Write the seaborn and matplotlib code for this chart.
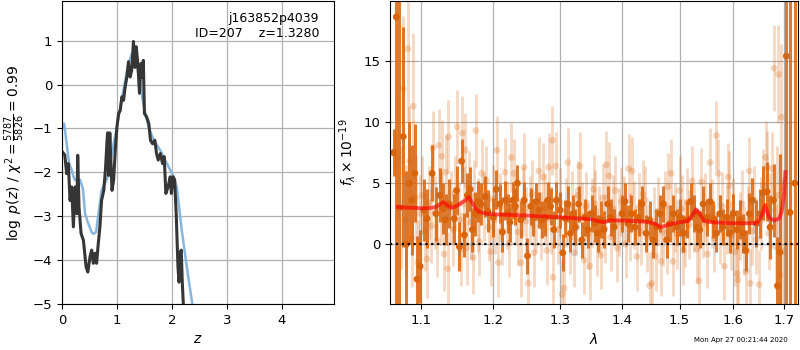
import numpy as np
import pandas as pd
import matplotlib
matplotlib.use("Agg")
import matplotlib.pyplot as plt
import matplotlib.ticker as mticker
import seaborn as sns

# ---- p(z) panel ----
z_pz = [0.01, 0.05, 0.085, 0.115, 0.146, 0.176, 0.207, 0.24, 0.27, 0.286, 0.31, 0.347,
        0.39, 0.438, 0.47, 0.51, 0.54, 0.57, 0.60, 0.63, 0.66, 0.69, 0.72, 0.76, 0.79,
        0.82, 0.83, 0.85, 0.87, 0.91, 0.94, 0.97, 1.0, 1.03, 1.06, 1.09, 1.12, 1.15,
        1.18, 1.21, 1.24, 1.27, 1.30, 1.33, 1.35, 1.38, 1.41, 1.44, 1.46, 1.48, 1.50,
        1.54, 1.58, 1.61, 1.65, 1.69, 1.72, 1.75, 1.79, 1.83, 1.86, 1.89, 1.93, 1.97,
        1.99, 2.02, 2.05, 2.08, 2.11, 2.13, 2.15, 2.17, 2.19, 2.21, 2.25]
logp = [-1.54, -1.6, -2.03, -1.8, -2.64, -2.33, -3.24, -2.33, -2.94, -1.61, -2.79, -3.39,
        -3.55, -4.15, -4.27, -3.92, -3.77, -4.07, -3.84, -4.07, -3.62, -3.24, -2.64, -2.41,
        -1.95, -1.27, -1.1, -2.07, -1.1, -2.41, -2.17, -1.49, -0.96, -0.66, -0.59, -0.28,
        -0.36, -0.05, 0.17, 0.52, 0.17, 0.33, 0.98, 0.39, 0.86, 0.48, -0.2, 0.48, 0.17,
        0.55, -0.66, -0.74, -0.89, -1.27, -1.35, -1.27, -1.57, -1.72, -1.57, -1.80, -1.64,
        -2.48, -2.33, -2.1, -2.48, -2.1, -2.17, -3.0, -4.15, -4.5, -3.86, -3.77, -4.53,
        -5.05, -6.5]

z_chi = [0.0, 0.04, 0.085, 0.13, 0.177, 0.21, 0.237, 0.27, 0.33, 0.38, 0.42, 0.48, 0.54,
         0.57, 0.62, 0.66, 0.72, 0.82, 0.876, 0.94, 1.0, 1.06, 1.15, 1.21, 1.27, 1.31,
         1.36, 1.42, 1.48, 1.575, 1.67, 1.79, 1.91, 2.03, 2.09, 2.18, 2.28, 2.37, 2.45]
chi_pz = [-1.0, -0.89, -1.35, -1.8, -1.95, -2.1, -2.18, -2.15, -2.17, -2.37, -2.94, -3.17,
          -3.36, -3.4, -3.36, -2.98, -2.41, -2.14, -1.8, -1.35, -0.97, -0.52, 0.09, 0.47,
          0.7, 0.7, 0.47, 0.02, -0.44, -0.97, -1.27, -1.5, -1.8, -2.1, -2.35, -3.32,
          -4.23, -4.98, -6.0]

# ---- spectrum panel: binned (dark) points ----
lam_bin = [1.0645, 1.068, 1.072, 1.077, 1.081, 1.085, 1.088, 1.092, 1.095, 1.099, 1.104,
           1.108, 1.115, 1.12, 1.125, 1.13, 1.133, 1.138, 1.145, 1.148, 1.152, 1.155,
           1.159, 1.163, 1.167, 1.17, 1.174, 1.178, 1.182, 1.188, 1.192, 1.2, 1.204,
           1.209, 1.213, 1.217, 1.221, 1.224, 1.228, 1.232, 1.235, 1.24, 1.245, 1.25,
           1.255, 1.259, 1.263, 1.267, 1.272, 1.277, 1.281, 1.285, 1.29, 1.294, 1.3,
           1.304, 1.308, 1.312, 1.316, 1.32, 1.324, 1.329, 1.334, 1.339, 1.344, 1.35,
           1.355, 1.36, 1.365, 1.37, 1.376, 1.381, 1.387, 1.4, 1.405, 1.41, 1.416, 1.422,
           1.428, 1.434, 1.441, 1.447, 1.453, 1.459, 1.465, 1.471, 1.477, 1.483, 1.489,
           1.495, 1.501, 1.507, 1.513, 1.52, 1.527, 1.532, 1.537, 1.543, 1.55, 1.556,
           1.562, 1.568, 1.574, 1.58, 1.587, 1.593, 1.6, 1.607, 1.613, 1.619, 1.624,
           1.631, 1.637, 1.645, 1.652, 1.658, 1.666, 1.672, 1.679, 1.687, 1.692, 1.705,
           1.7125, 1.7225]
flux_bin = [7.5, 18.6, 3.0, 8.8, 0.0, 5.0, 3.6, 5.8, -2.85, -1.8, 2.8, 2.1, 5.8, 2.5, 4.0,
            2.9, 2.0, 3.3, 2.1, 4.4, -0.2, 6.8, 0.76, 4.0, 4.5, 1.2, 2.5, 3.5, 3.3, 3.9,
            2.7, 2.2, 4.5, 3.3, 1.0, 3.6, 2.5, 1.8, 3.6, 3.1, 5.0, 2.0, 3.6, -0.95, 3.1,
            2.2, 3.5, 2.8, 2.0, 2.2, 3.6, 3.1, 1.2, 3.6, 2.8, -0.7, 2.1, 3.3, 0.9, 2.5,
            1.4, 3.3, 0.35, 2.2, 1.2, 2.5, 1.7, 0.9, 2.0, 1.2, 3.3, 2.2, 1.4, 2.5, 3.5,
            1.7, 2.5, 1.4, 2.2, 3.3, 0.9, 2.0, 0.35, 1.4, 2.5, 3.3, 0.35, 1.7, 2.5, 1.4,
            2.2, 0.9, 2.0, 3.5, 2.5, 1.4, 1.2, 3.3, 2.2, 3.5, 2.0, 0.9, 2.5, 1.4, 2.2,
            0.9, 2.5, 1.2, 2.0, 0.9, -0.5, 2.5, 3.6, 1.7, 2.5, 4.2, 4.3, 1.4, 3.6, -3.4,
            -0.65, 15.4, 2.6, 5.0]
err_bin = [1.9, 30.0, 30.0, 9.0, 6.0, 5.0, 4.5, 4.0, 3.5, 3.0, 2.5, 2.4, 2.3, 2.2, 2.2,
           2.1, 2.1, 2.0, 2.0, 2.0, 2.0, 1.8, 1.8, 1.8, 1.8, 1.8, 1.8, 1.7, 1.7, 1.7,
           1.7, 1.6, 1.6, 1.6, 1.6, 1.6, 1.6, 1.6, 1.5, 1.5, 1.5, 1.5, 1.5, 1.5, 1.5,
           1.5, 1.5, 1.5, 1.5, 1.5, 1.5, 1.5, 1.5, 1.5, 1.5, 1.5, 1.5, 1.5, 1.5, 1.5,
           1.5, 1.5, 1.5, 1.5, 1.5, 1.5, 1.5, 1.5, 1.5, 1.5, 1.5, 1.5, 1.5, 1.5, 1.5,
           1.5, 1.5, 1.5, 1.5, 1.5, 1.5, 1.5, 1.5, 1.5, 1.5, 1.5, 1.5, 1.5, 1.5, 1.5,
           1.5, 1.5, 1.5, 1.5, 1.5, 1.5, 1.5, 1.5, 1.5, 1.5, 1.5, 1.5, 1.5, 1.5, 1.5,
           1.6, 1.6, 1.6, 1.6, 1.6, 1.7, 1.7, 1.8, 1.9, 2.0, 2.2, 2.4, 2.6, 3.0, 4.0,
           8.0, 30.0, 25.0, 30.0]

# ---- spectrum panel: individual (light) points ----
lam_raw = [1.070, 1.074, 1.077, 1.080, 1.083, 1.085, 1.088, 1.090, 1.093, 1.096, 1.099,
           1.102, 1.105, 1.108, 1.111, 1.114, 1.116, 1.119, 1.122, 1.124, 1.127, 1.128,
           1.131, 1.133, 1.136, 1.137, 1.140, 1.143, 1.146, 1.149, 1.152, 1.154, 1.156,
           1.158, 1.160, 1.162, 1.165, 1.168, 1.171, 1.173, 1.175, 1.178, 1.180, 1.183,
           1.186, 1.190, 1.193, 1.196, 1.199, 1.202, 1.205, 1.207, 1.210, 1.213, 1.217,
           1.220, 1.223, 1.226, 1.230, 1.233, 1.236, 1.240, 1.243, 1.245, 1.248, 1.251,
           1.254, 1.257, 1.260, 1.263, 1.267, 1.270, 1.273, 1.276, 1.279, 1.282, 1.285,
           1.288, 1.289, 1.293, 1.296, 1.300, 1.303, 1.306, 1.309, 1.312, 1.315, 1.318,
           1.322, 1.325, 1.328, 1.331, 1.334, 1.338, 1.341, 1.344, 1.347, 1.350, 1.353,
           1.355, 1.358, 1.362, 1.365, 1.368, 1.371, 1.374, 1.378, 1.381, 1.385, 1.389,
           1.392, 1.395, 1.399, 1.403, 1.406, 1.411, 1.414, 1.417, 1.420, 1.425, 1.428,
           1.432, 1.436, 1.440, 1.443, 1.447, 1.451, 1.455, 1.458, 1.462, 1.467, 1.470,
           1.474, 1.477, 1.480, 1.485, 1.488, 1.492, 1.496, 1.500, 1.504, 1.507, 1.510,
           1.514, 1.518, 1.523, 1.527, 1.531, 1.535, 1.540, 1.543, 1.547, 1.551, 1.556,
           1.560, 1.564, 1.568, 1.571, 1.575, 1.579, 1.583, 1.587, 1.590, 1.592, 1.596,
           1.600, 1.603, 1.607, 1.609, 1.613, 1.617, 1.621, 1.625, 1.628, 1.631, 1.633,
           1.637, 1.641, 1.645, 1.650, 1.654, 1.658, 1.663, 1.666, 1.669, 1.672, 1.675,
           1.680, 1.683, 1.686, 1.689, 1.692, 1.695, 1.698]
flux_raw = [7.1, 3.0, 12.7, 2.0, 16.0, 6.8, 0.5, 11.3, 3.8, -1.5, 2.5, 4.0, 1.0, -1.2, 3.4,
            1.5, 7.9, 2.6, 0.3, 8.1, 2.9, 7.2, -0.8, 5.9, -2.0, 8.8, 3.0, 1.2, 4.2, 9.6,
            2.0, -0.4, 9.1, 3.3, 7.7, -0.3, 4.6, 1.8, -1.1, 3.9, 9.3, 2.4, 0.2, 5.8, 3.1,
            5.2, 1.4, -0.6, 3.7, 2.0, 7.7, -1.5, 3.0, 1.1, 5.9, 2.4, 0.1, 7.1, 5.8, 2.7,
            1.0, -1.5, 3.5, 6.3, 1.9, -3.2, 2.8, 4.1, -0.7, 2.2, 6.0, 1.5, 5.5, 3.0, -0.5,
            6.3, 2.0, 8.5, -2.7, 6.4, 1.2, 3.4, -4.1, -3.6, 2.6, 6.7, 0.4, 3.2, -0.7, 1.9,
            4.0, 6.4, 2.3, -1.3, 3.1, 0.8, -1.8, 2.6, 4.5, 3.3, 0.2, 2.0, -0.9, 3.8, 1.3,
            6.5, 5.6, 0.6, 2.9, 4.4, -0.3, 1.8, 3.5, 2.8, 0.0, 6.2, 1.4, 6.0, 2.4, -1.0,
            3.0, 1.1, 4.1, 3.6, 0.5, -3.4, -3.2, 1.9, -1.0, 2.7, -1.4, 1.0, 3.2, 0.4, 4.7,
            5.8, -1.4, 2.2, 0.8, 4.4, 2.9, -0.5, 0.9, 3.4, 1.6, 5.2, 2.2, -0.4, -3.0, 5.1,
            1.7, 3.0, -0.8, 6.7, 2.5, 0.5, 8.9, 5.8, 1.2, 3.1, -1.8, 2.0, 5.5, 4.8, 0.7,
            2.6, -0.6, -2.4, -2.9, 1.5, 3.3, 0.3, -2.2, 2.0, 6.0, -3.2, 1.1, 3.6, 0.4,
            -3.3, 2.5, 4.8, 7.1, 6.3, 0.9, 2.8, 6.2, 14.4, -0.2, 4.0, 13.9, -2.5, 10.4, -0.6]
err_raw = [5.0, 5.0, 6.0, 4.5, 6.0, 4.5, 4.0, 6.0, 3.5, 3.5, 3.2, 3.2, 3.2, 3.2, 3.0,
           3.0, 3.0, 3.0, 3.0, 3.0, 3.0, 3.0, 3.0, 3.0, 3.0, 3.0, 3.0, 3.0, 3.0, 3.0,
           3.0, 3.0, 3.0, 3.0, 3.0, 3.0, 3.0, 3.0, 3.0, 3.0, 3.0, 3.0, 2.8, 2.8, 2.8,
           2.8, 2.8, 2.8, 2.8, 2.8, 2.8, 2.8, 2.8, 2.8, 2.8, 2.8, 2.8, 2.8, 2.8, 2.8,
           2.8, 2.8, 2.8, 2.8, 2.8, 2.8, 2.8, 2.8, 2.8, 2.8, 2.8, 2.8, 2.8, 2.8, 2.8,
           2.8, 2.8, 2.8, 2.8, 2.8, 2.8, 2.8, 2.8, 2.8, 2.8, 2.8, 2.8, 2.8, 2.8, 2.8,
           2.8, 2.8, 2.8, 2.8, 2.8, 2.8, 2.8, 2.8, 2.8, 2.8, 2.8, 2.8, 2.8, 2.8, 2.8,
           2.8, 2.8, 2.8, 2.8, 2.8, 2.8, 2.8, 2.8, 2.8, 2.8, 2.8, 2.8, 2.8, 2.8, 2.8,
           2.8, 2.8, 2.8, 2.8, 2.8, 2.8, 2.8, 2.8, 2.8, 2.8, 2.8, 2.8, 2.8, 2.8, 2.8,
           2.8, 2.8, 2.8, 2.8, 2.8, 2.8, 2.8, 2.8, 2.8, 2.8, 2.8, 2.8, 2.8, 2.8, 2.8,
           2.8, 2.8, 2.8, 2.8, 2.8, 2.8, 2.8, 2.8, 2.8, 2.8, 2.8, 2.8, 2.8, 2.8, 2.8,
           2.8, 2.8, 2.8, 2.8, 2.8, 2.8, 2.8, 2.8, 2.8, 2.8, 2.8, 2.8, 2.8, 2.8, 2.8,
           3.0, 3.0, 3.0, 3.0, 3.0, 3.0, 3.0, 3.5, 3.5, 4.0, 4.0, 5.0, 6.0, 6.0]

# ---- best-fit model ----
lam_model = [1.07, 1.08, 1.09, 1.10, 1.11, 1.12, 1.13, 1.135, 1.14, 1.145, 1.15, 1.16,
             1.165, 1.17, 1.175, 1.18, 1.19, 1.20, 1.25, 1.30, 1.35, 1.36, 1.37, 1.38,
             1.40, 1.44, 1.455, 1.467, 1.48, 1.50, 1.515, 1.525, 1.53, 1.535, 1.545,
             1.56, 1.60, 1.645, 1.655, 1.662, 1.67, 1.68, 1.69, 1.695, 1.70, 1.703]
flux_model = [3.05, 3.0, 2.98, 2.95, 2.95, 3.05, 3.45, 3.2, 3.0, 3.05, 3.2, 3.6, 3.85, 3.4,
              2.9, 2.65, 2.5, 2.45, 2.35, 2.2, 2.05, 1.9, 1.8, 1.95, 1.95, 1.85, 1.7, 1.4,
              1.6, 1.8, 1.9, 2.5, 2.85, 2.6, 1.9, 1.8, 1.72, 1.72, 2.3, 3.2, 2.2, 1.95,
              2.1, 2.6, 4.0, 5.9]

obj_name = "j163852p4039"
obj_id = 207
z_best = 1.3280
timestamp = "Mon Apr 27 00:21:44 2020"

orange = "#d8640c"

fig = plt.figure(figsize=(8, 3.5), dpi=100)
ax1 = fig.add_axes([0.0775, 0.131, 0.34, 0.866])
ax2 = fig.add_axes([0.4875, 0.131, 0.51, 0.866])

# left: p(z)
sns.lineplot(x=z_chi, y=chi_pz, ax=ax1, color="#86b6dc", lw=1.8, sort=False, estimator=None)
sns.lineplot(x=z_pz, y=logp, ax=ax1, color="#363636", lw=2.2, sort=False, estimator=None)
ax1.set_xlim(0, 4.95)
ax1.set_ylim(-5, 1.9)
ax1.set_xticks([0, 1, 2, 3, 4])
ax1.set_yticks([-5, -4, -3, -2, -1, 0, 1])
ax1.grid(True, color="#b0b0b0", lw=0.9)
ax1.set_axisbelow(True)
ax1.set_xlabel(r"$z$", fontsize=10)
ax1.set_ylabel(r"$\log\ p(z)$ / $\chi^2=\frac{5787}{5826}=0.99$", fontsize=10)
ax1.text(0.945, 0.965, f"{obj_name}\nID={obj_id}    z={z_best:.4f}", transform=ax1.transAxes,
         ha="right", va="top", fontsize=9, linespacing=1.2)

# right: spectrum
ax2.errorbar(lam_raw, flux_raw, yerr=err_raw, fmt="none", ecolor=orange, alpha=0.25,
             elinewidth=2.0, zorder=1)
sns.scatterplot(x=lam_raw, y=flux_raw, ax=ax2, color=orange, alpha=0.25, s=24,
                edgecolor="none", zorder=1)
ax2.errorbar(lam_bin, flux_bin, yerr=err_bin, fmt="none", ecolor=orange, alpha=0.85,
             elinewidth=2.2, zorder=2)
sns.scatterplot(x=lam_bin, y=flux_bin, ax=ax2, color=orange, s=24, edgecolor="none", zorder=2)
sns.lineplot(x=lam_model, y=flux_model, ax=ax2, color="red", alpha=0.65, lw=2.8,
             sort=False, estimator=None, zorder=3)
ax2.axhline(0, color="k", ls=":", lw=1.6, zorder=4)

ax2.set_xscale("log")
ax2.set_xlim(1.06, 1.729)
ax2.set_ylim(-4.9, 19.9)
ax2.set_xticks([1.1, 1.2, 1.3, 1.4, 1.5, 1.6, 1.7])
ax2.xaxis.set_major_formatter(mticker.FormatStrFormatter("%.1f"))
ax2.xaxis.set_minor_locator(mticker.NullLocator())
ax2.set_yticks([0, 5, 10, 15])
ax2.grid(True, color="#b0b0b0", lw=0.9)
ax2.set_axisbelow(True)
ax2.set_xlabel(r"$\lambda$", fontsize=10)
ax2.set_ylabel(r"$f_\lambda\times10^{-19}$", fontsize=10)

for ax in (ax1, ax2):
    ax.tick_params(labelsize=9.5)

fig.text(0.985, 0.029, timestamp, ha="right", va="center", fontsize=5)

fig.savefig("out.png", dpi=100)
